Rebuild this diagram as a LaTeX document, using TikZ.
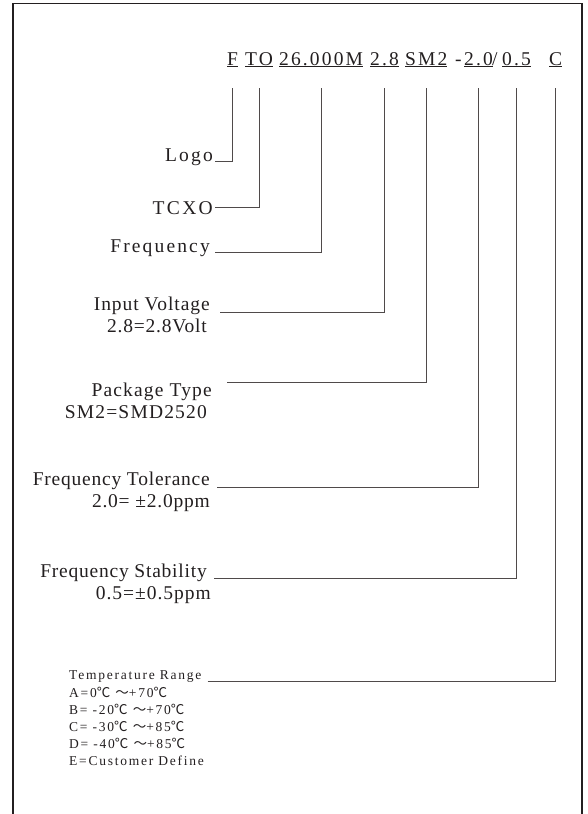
\documentclass[tikz,border=0pt]{standalone}
\usepackage{fontspec}
\setmainfont{Liberation Serif}
\newfontfamily\cjkfont{Noto Sans CJK SC}
\newcommand{\degc}{{\cjkfont ℃}}
\newcommand{\wave}{{\cjkfont ～}}
\definecolor{ink}{HTML}{231F20}
\definecolor{wire}{HTML}{4F4A4A}

\begin{document}
\begin{tikzpicture}[x=1pt, y=-1pt,
  lbl/.style={anchor=base east, inner sep=0, text=ink,
    font=\fontsize{19.5}{22}\selectfont\addfontfeature{LetterSpace=#1}},
  lbl/.default=11,
  small/.style={anchor=base west, inner sep=0, text=ink,
    font=\fontsize{13.5}{16}\selectfont\addfontfeature{LetterSpace=13}},
  code/.style={anchor=base west, inner sep=0, text=ink,
    font=\fontsize{19.5}{22}\selectfont\addfontfeature{LetterSpace=11}},
  link/.style={draw=wire, line width=1pt}]

  \useasboundingbox (0,0) rectangle (587,814);

  % Frame
  \draw[ink, line width=1.5pt] (13,814) -- (13,3.5) -- (582,3.5) -- (582,814);

  % Part number
  \node[code] (cF) at (227,65) {\underline{F}};
  \node[code] (cTO) at (245,65) {\underline{TO}};
  \node[code] (cFreq) at (279,65) {\underline{26.000M}};
  \node[code] (cVolt) at (370,65) {\underline{2.8}};
  \node[code] (cPkg) at (405,65) {\underline{SM2}};
  \node[code] (cDash) at (455,65) {-};
  \node[code] (cTol) at (464,65) {\underline{2.0}};
  \node[code] (cSlash) at (492,65) {/};
  \node[code] (cStab) at (502,65) {\underline{0.5}};
  \node[code] (cTemp) at (549,65) {\underline{C}};
  \coordinate (row) at (0,88);

  % Field names
  \node[lbl] (logo) at (213,161) {Logo};
  \node[lbl=12] (tcxo) at (213,214) {TCXO};
  \node[lbl] (freq) at (210,252) {Frequency};
  \node[lbl=5] (volt) at (210,310) {Input Voltage};
  \node[lbl=4] (voltv) at (207,332) {2.8=2.8Volt};
  \node[lbl=6] (pkg) at (212,396) {Package Type};
  \node[lbl=6] (pkgv) at (207,418) {SM2=SMD2520};
  \node[lbl=4] (tol) at (210,485) {Frequency Tolerance};
  \node[lbl=4] (tolv) at (210,507) {2.0= ±2.0ppm};
  \node[lbl=4] (stab) at (207,577) {Frequency Stability};
  \node[lbl=5] (stabv) at (211,599) {0.5=±0.5ppm};

  % Temperature codes
  \node[small] (temp) at (69,679) {Temperature Range};
  \node[small] (ta) at (69,697) {A=0\degc\ \wave+70\degc};
  \node[small] (tb) at (69,714) {B= -20\degc\ \wave+70\degc};
  \node[small] (tc) at (69,731) {C= -30\degc\ \wave+85\degc};
  \node[small] (td) at (69,748) {D= -40\degc\ \wave+85\degc};
  \node[small] (te) at (69,765) {E=Customer Define};

  % Leaders
  \draw[link] ([xshift=2pt]logo.base east) -| (cF.south |- row);
  \draw[link] ([xshift=2pt]tcxo.east) -| (cTO.south |- row);
  \draw[link] ([xshift=5pt]freq.base east) -| (cFreq.south |- row);
  \draw[link] ([xshift=10pt,yshift=-2pt]volt.base east) -| (cVolt.south |- row);
  \draw[link] ([xshift=15pt]pkg.north east) -| (cPkg.south |- row);
  \draw[link] ([xshift=7pt,yshift=-2pt]tol.base east) -| (cTol.south |- row);
  \draw[link] ([xshift=7pt,yshift=-1pt]stab.base east) -| (cStab.south |- row);
  \draw[link] ([xshift=6pt,yshift=-2pt]temp.base east) -| (cTemp.south |- row);

\end{tikzpicture}
\end{document}
